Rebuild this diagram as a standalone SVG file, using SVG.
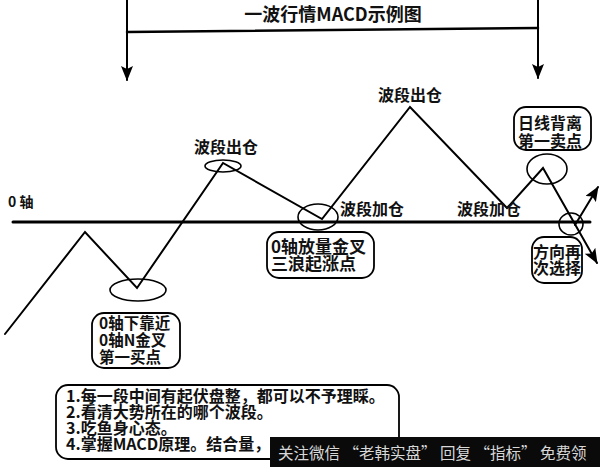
<svg xmlns="http://www.w3.org/2000/svg" width="600" height="467" viewBox="0 0 600 467">
<style>
.t{font-family:"Noto Sans CJK SC","Liberation Sans",sans-serif;font-weight:bold;fill:#111;}
.ln{fill:none;stroke:#000;stroke-linecap:round;stroke-linejoin:miter;}
.el{fill:none;stroke:#000;stroke-width:1.6;}
.box{fill:#fff;stroke:#000;stroke-width:1.8;}
</style>
<defs>
<marker id="ah" markerUnits="userSpaceOnUse" markerWidth="16" markerHeight="12" refX="14" refY="6" orient="auto">
<path d="M0,0 L15,6 L0,12 L3,6 z" fill="#000"/>
</marker>
</defs>
<rect width="600" height="467" fill="#fff"/>
<g id="connectors">
<line class="ln" x1="127" y1="0" x2="127" y2="80" stroke-width="2" marker-end="url(#ah)"/>
<line class="ln" x1="538" y1="0" x2="538" y2="78" stroke-width="2" marker-end="url(#ah)"/>
<line class="ln" x1="127" y1="32" x2="538" y2="28" stroke-width="2.5"/>
<line class="ln" x1="13" y1="222" x2="590" y2="222" stroke-width="3"/>
<polyline class="ln" stroke-width="2" points="5,334 85,232 137,288 223,163 322,219 410,107 507,208 543,168 597,263" marker-end="url(#ah)"/>
<line class="ln" x1="575" y1="225" x2="598" y2="187" stroke-width="2" marker-end="url(#ah)"/>
</g>
<g id="title"><text class="t" x="333" y="21" font-size="18" text-anchor="middle">一波行情MACD示例图</text></g>
<g id="axis-label"><text class="t" x="8" y="207" font-size="14">0 轴</text></g>
<g id="e1"><ellipse class="el" cx="138" cy="290" rx="28" ry="11"/></g>
<g id="e2"><ellipse class="el" cx="223" cy="166" rx="18" ry="6"/></g>
<g id="e3"><ellipse class="el" cx="318" cy="217" rx="20" ry="13"/></g>
<g id="e4"><ellipse class="el" cx="547" cy="169" rx="20" ry="15"/></g>
<g id="e5"><ellipse class="el" cx="571" cy="224" rx="12" ry="11"/></g>
<g id="lab1"><text class="t" x="226" y="153" font-size="16" text-anchor="middle">波段出仓</text></g>
<g id="lab2"><text class="t" x="410" y="101" font-size="16" text-anchor="middle">波段出仓</text></g>
<g id="lab3"><text class="t" x="340" y="215" font-size="16">波段加仓</text></g>
<g id="lab4"><text class="t" x="457" y="215" font-size="16">波段加仓</text></g>
<g id="buy1">
<rect class="box" x="92" y="313" width="88" height="55" rx="12"/>
<text class="t" font-size="15.5"><tspan x="99" y="329">0轴下靠近</tspan><tspan x="99" y="346">0轴N金叉</tspan><tspan x="99" y="363">第一买点</tspan></text>
</g>
<g id="buy3">
<rect class="box" x="267" y="232" width="107" height="46" rx="12"/>
<text class="t" font-size="17"><tspan x="271" y="253">0轴放量金叉</tspan><tspan x="271" y="270">三浪起涨点</tspan></text>
</g>
<g id="sell1">
<rect class="box" x="514" y="107" width="77" height="43" rx="12"/>
<text class="t" font-size="16"><tspan x="518" y="129">日线背离</tspan><tspan x="518" y="147">第一卖点</tspan></text>
</g>
<g id="choose">
<rect class="box" x="532" y="237" width="50" height="46" rx="12"/>
<text class="t" font-size="16"><tspan x="533" y="258">方向再</tspan><tspan x="533" y="274">次选择</tspan></text>
</g>
<g id="notes">
<rect class="box" x="56" y="385" width="343" height="74" rx="12"/>
<text class="t" font-size="16"><tspan x="66" y="402">1.每一段中间有起伏盘整，都可以不予理睬。</tspan><tspan x="66" y="418">2.看清大势所在的哪个波段。</tspan><tspan x="66" y="434">3.吃鱼身心态。</tspan><tspan x="66" y="450">4.掌握MACD原理。结合量，</tspan></text>
</g>
<g id="banner">
<rect x="270" y="437" width="330" height="30" fill="#0a0a0a"/>
<text x="278" y="459" font-size="15.5" fill="#d8d8d8" font-family="Noto Sans CJK SC, sans-serif">关注微信 “老韩实盘” 回复 “指标” 免费领</text>
</g>
</svg>
